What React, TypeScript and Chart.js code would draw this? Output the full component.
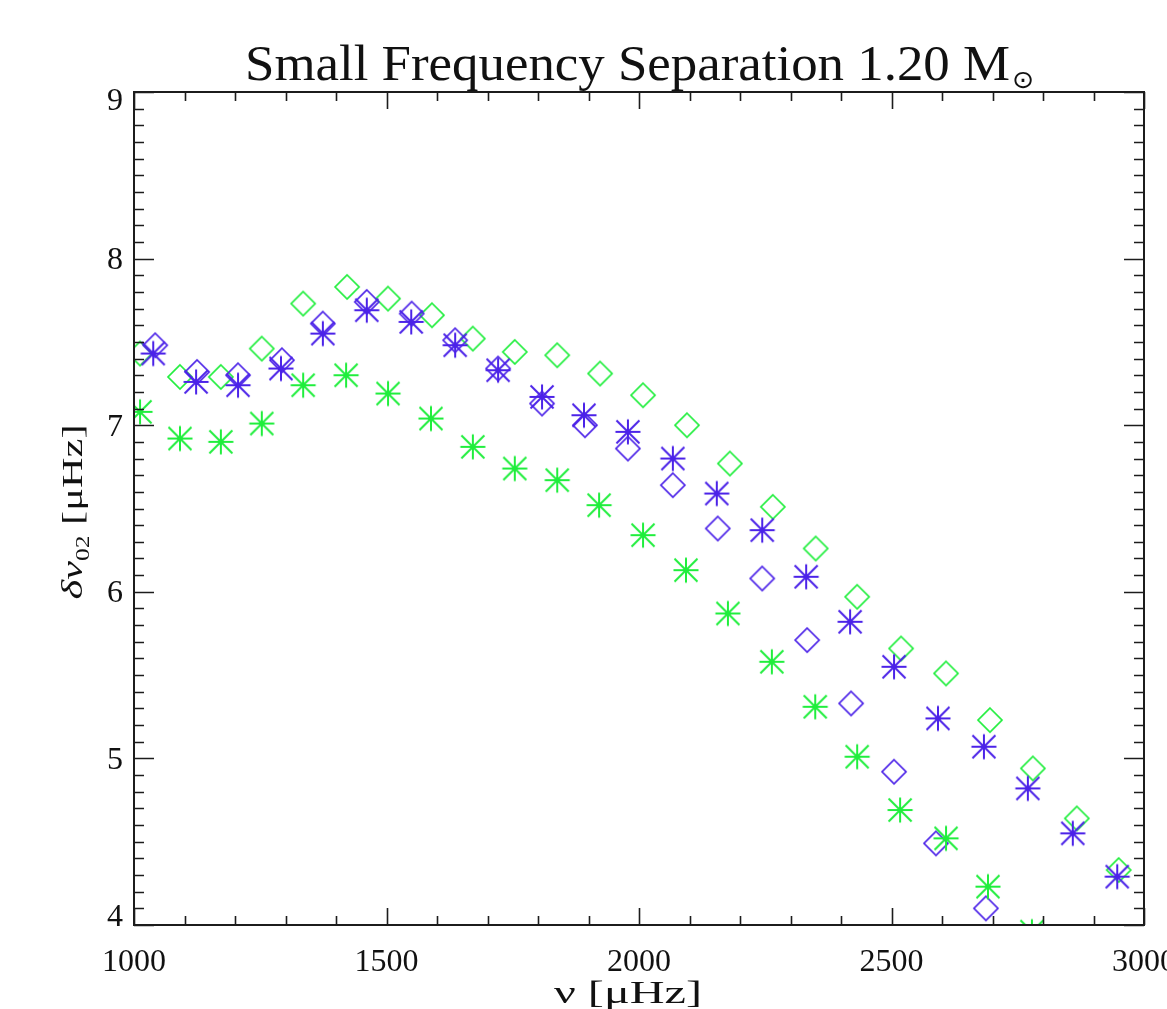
import React, { useEffect, useRef } from "react";
import { Chart, registerables } from "chart.js";

Chart.register(...registerables);

// ---------- data ----------
const X_MIN = 1000;
const X_MAX = 3000;
const Y_MIN = 4;
const Y_MAX = 9;
const X_TICKS = [1000, 1500, 2000, 2500, 3000];
const Y_TICKS = [4, 5, 6, 7, 8, 9];
const X_MINOR_STEP = 100;
const Y_MINOR_STEP = 0.1;

const TITLE = "Small Frequency Separation 1.20 M";
const TITLE_SUB = "\u2299";
const X_TITLE = "\u03bd [\u03bcHz]";
const Y_TITLE_MAIN = "\u03b4\u03bd";
const Y_TITLE_SUB = "02";
const Y_TITLE_UNIT = " [\u03bcHz]";

const GREEN_DIAMOND_NU = [1012, 1091, 1172, 1253, 1335, 1422, 1503, 1590, 1671, 1754, 1838, 1923, 2008, 2095, 2180, 2265, 2350, 2432, 2519, 2608, 2695, 2780, 2867, 2950];
const GREEN_DIAMOND_DNU = [7.43, 7.29, 7.29, 7.46, 7.73, 7.83, 7.76, 7.66, 7.52, 7.44, 7.42, 7.31, 7.18, 7.0, 6.77, 6.51, 6.26, 5.97, 5.66, 5.51, 5.23, 4.94, 4.64, 4.33];

const GREEN_STAR_NU = [1012, 1091, 1172, 1253, 1335, 1420, 1503, 1588, 1671, 1754, 1838, 1921, 2008, 2093, 2176, 2263, 2349, 2432, 2517, 2608, 2691, 2778];
const GREEN_STAR_DNU = [7.08, 6.92, 6.9, 7.01, 7.24, 7.3, 7.19, 7.04, 6.87, 6.74, 6.67, 6.52, 6.34, 6.13, 5.87, 5.58, 5.31, 5.01, 4.69, 4.52, 4.23, 3.96];

const BLUE_DIAMOND_NU = [1042, 1125, 1206, 1293, 1374, 1461, 1550, 1636, 1721, 1808, 1893, 1978, 2067, 2156, 2244, 2333, 2420, 2505, 2588, 2687];
const BLUE_DIAMOND_DNU = [7.48, 7.32, 7.3, 7.39, 7.61, 7.74, 7.67, 7.51, 7.34, 7.13, 7.0, 6.86, 6.64, 6.38, 6.08, 5.71, 5.33, 4.92, 4.49, 4.1];

const BLUE_STAR_NU = [1038, 1123, 1206, 1291, 1374, 1461, 1549, 1636, 1721, 1808, 1891, 1978, 2067, 2154, 2244, 2331, 2418, 2505, 2592, 2683, 2770, 2859, 2947];
const BLUE_STAR_DNU = [7.43, 7.26, 7.24, 7.34, 7.55, 7.69, 7.62, 7.48, 7.33, 7.17, 7.06, 6.96, 6.8, 6.59, 6.37, 6.09, 5.82, 5.55, 5.24, 5.07, 4.82, 4.55, 4.29];

const GREEN = "#1fee3c";
const BLUE = "#4b22e8";

// ---------- marker images ----------
function diamondImg(color: string): HTMLCanvasElement {
  const c = document.createElement("canvas");
  c.width = 30;
  c.height = 30;
  const g = c.getContext("2d")!;
  g.strokeStyle = color;
  g.lineWidth = 1.7;
  const r = 12;
  const m = 15;
  g.beginPath();
  g.moveTo(m, m - r);
  g.lineTo(m + r, m);
  g.lineTo(m, m + r);
  g.lineTo(m - r, m);
  g.closePath();
  g.stroke();
  return c;
}

function asteriskImg(color: string): HTMLCanvasElement {
  const c = document.createElement("canvas");
  c.width = 30;
  c.height = 30;
  const g = c.getContext("2d")!;
  g.strokeStyle = color;
  g.fillStyle = color;
  g.lineWidth = 2;
  const r = 12.5;
  const d = 11.5;
  const m = 15;
  g.beginPath();
  g.moveTo(m - r, m);
  g.lineTo(m + r, m);
  g.moveTo(m, m - r);
  g.lineTo(m, m + r);
  g.moveTo(m - d, m - d);
  g.lineTo(m + d, m + d);
  g.moveTo(m - d, m + d);
  g.lineTo(m + d, m - d);
  g.stroke();
  g.beginPath();
  g.arc(m, m, 2.4, 0, Math.PI * 2);
  g.fill();
  return c;
}

function toPoints(xs: number[], ys: number[]) {
  return xs.map((x, i) => ({ x, y: ys[i] }));
}

function drawPieces(
  ctx: CanvasRenderingContext2D,
  pieces: { t: string; f: string; dy: number }[],
  cx: number,
  baseline: number,
  targetWidth: number
) {
  let w = 0;
  for (const p of pieces) {
    ctx.font = p.f;
    w += ctx.measureText(p.t).width;
  }
  const sx = targetWidth / w;
  ctx.save();
  ctx.translate(cx, baseline);
  ctx.scale(sx, 1);
  let x = -w / 2;
  ctx.textAlign = "left";
  ctx.textBaseline = "alphabetic";
  for (const p of pieces) {
    ctx.font = p.f;
    ctx.fillText(p.t, x, p.dy);
    x += ctx.measureText(p.t).width;
  }
  ctx.restore();
}

const idlAxes = {
  id: "idlAxes",
  beforeDraw(chart: any) {
    const ctx = chart.ctx as CanvasRenderingContext2D;
    ctx.save();
    ctx.fillStyle = "#ffffff";
    ctx.fillRect(0, 0, chart.width, chart.height);
    ctx.restore();
  },
  afterDraw(chart: any) {
    const ctx = chart.ctx as CanvasRenderingContext2D;
    const a = chart.chartArea;
    const xs = chart.scales.x;
    const ys = chart.scales.y;
    ctx.save();
    ctx.strokeStyle = "#1c1c1c";
    ctx.lineWidth = 2;
    ctx.strokeRect(a.left, a.top, a.right - a.left, a.bottom - a.top);

    ctx.lineWidth = 1.6;
    ctx.beginPath();
    const nx = Math.round((X_MAX - X_MIN) / X_MINOR_STEP);
    for (let k = 0; k <= nx; k++) {
      const v = X_MIN + k * X_MINOR_STEP;
      const major = X_TICKS.includes(v);
      const px = Math.round(xs.getPixelForValue(v)) + 0.5;
      const len = major ? 17 : 9;
      ctx.moveTo(px, a.bottom);
      ctx.lineTo(px, a.bottom - len);
      ctx.moveTo(px, a.top);
      ctx.lineTo(px, a.top + len);
    }
    const ny = Math.round((Y_MAX - Y_MIN) / Y_MINOR_STEP);
    for (let k = 0; k <= ny; k++) {
      const v = Y_MIN + k * Y_MINOR_STEP;
      const major = Y_TICKS.some((t) => Math.abs(t - v) < 1e-6);
      const py = Math.round(ys.getPixelForValue(v)) + 0.5;
      const len = major ? 20 : 10;
      ctx.moveTo(a.left, py);
      ctx.lineTo(a.left + len, py);
      ctx.moveTo(a.right, py);
      ctx.lineTo(a.right - len, py);
    }
    ctx.stroke();

    // tick labels
    ctx.fillStyle = "#111111";
    ctx.font = '32px "Liberation Serif"';
    ctx.textAlign = "center";
    ctx.textBaseline = "alphabetic";
    for (const t of xs.ticks) {
      const px = xs.getPixelForValue(t.value);
      ctx.fillText(String(t.value), px, a.bottom + 46);
    }
    ctx.textAlign = "right";
    ctx.textBaseline = "middle";
    for (const t of ys.ticks) {
      let py = ys.getPixelForValue(t.value) + 2;
      py = Math.max(a.top + 10, Math.min(a.bottom - 7, py));
      ctx.fillText(String(t.value), a.left - 11, py);
    }

    // title (stretched horizontally like the original vector font)
    const fs = 50;
    const titleFont = `${fs}px "Liberation Serif"`;
    ctx.font = titleFont;
    const w0 = ctx.measureText(TITLE).width;
    const sx = 765 / w0;
    ctx.save();
    ctx.translate(245, 80);
    ctx.scale(sx, 1);
    ctx.textAlign = "left";
    ctx.textBaseline = "alphabetic";
    ctx.fillText(TITLE, 0, 0);
    ctx.font = `${fs * 0.5}px "DejaVu Sans"`;
    ctx.fillText(TITLE_SUB, w0 + 2, 8);
    ctx.restore();

    // x title
    drawPieces(
      ctx,
      [{ t: X_TITLE, f: '32px "Liberation Serif"', dy: 0 }],
      628,
      1003,
      148
    );

    // y title
    ctx.save();
    ctx.translate(82, 512);
    ctx.rotate(-Math.PI / 2);
    drawPieces(
      ctx,
      [
        { t: Y_TITLE_MAIN, f: 'italic 30px "Liberation Serif"', dy: 0 },
        { t: Y_TITLE_SUB, f: '18px "Liberation Serif"', dy: 7 },
        { t: Y_TITLE_UNIT, f: '30px "Liberation Serif"', dy: 0 },
      ],
      0,
      0,
      175
    );
    ctx.restore();
    ctx.restore();
  },
};

export default function App() {
  const ref = useRef<HTMLCanvasElement>(null);
  useEffect(() => {
    const canvas = ref.current!;
    const gd = diamondImg(GREEN);
    const gs = asteriskImg(GREEN);
    const bd = diamondImg(BLUE);
    const bs = asteriskImg(BLUE);
    const common = { showLine: false, pointRadius: 16, pointHoverRadius: 16, borderWidth: 0, clip: 0 as any };
    const chart = new Chart(canvas, {
      type: "scatter",
      data: {
        datasets: [
          { ...common, label: "blue asterisk", data: toPoints(BLUE_STAR_NU, BLUE_STAR_DNU), pointStyle: bs as any },
          { ...common, label: "green asterisk", data: toPoints(GREEN_STAR_NU, GREEN_STAR_DNU), pointStyle: gs as any },
          { ...common, label: "blue diamond", data: toPoints(BLUE_DIAMOND_NU, BLUE_DIAMOND_DNU), pointStyle: bd as any },
          { ...common, label: "green diamond", data: toPoints(GREEN_DIAMOND_NU, GREEN_DIAMOND_DNU), pointStyle: gd as any },
        ],
      },
      options: {
        responsive: false,
        animation: false,
        devicePixelRatio: 1,
        layout: { padding: { top: 92, right: 23, left: 0, bottom: 0 } },
        plugins: {
          legend: { display: false },
          tooltip: { enabled: false },
          title: { display: false },
        },
        events: [],
        scales: {
          x: {
            type: "linear",
            min: X_MIN,
            max: X_MAX,
            grid: { display: false },
            border: { display: false },
            ticks: { display: false },
            afterBuildTicks: (s: any) => {
              s.ticks = X_TICKS.map((v) => ({ value: v }));
            },
            afterFit: (s: any) => {
              s.height = 84;
            },
          },
          y: {
            type: "linear",
            min: Y_MIN,
            max: Y_MAX,
            grid: { display: false },
            border: { display: false },
            ticks: { display: false },
            afterBuildTicks: (s: any) => {
              s.ticks = Y_TICKS.map((v) => ({ value: v }));
            },
            afterFit: (s: any) => {
              s.width = 134;
            },
          },
        },
      },
      plugins: [idlAxes],
    });
    return () => chart.destroy();
  }, []);
  return (
    <div style={{ position: "absolute", left: 0, top: 0, width: 1167, height: 1009, background: "#fff" }}>
      <canvas ref={ref} width={1167} height={1009} style={{ display: "block", width: 1167, height: 1009 }} />
    </div>
  );
}
